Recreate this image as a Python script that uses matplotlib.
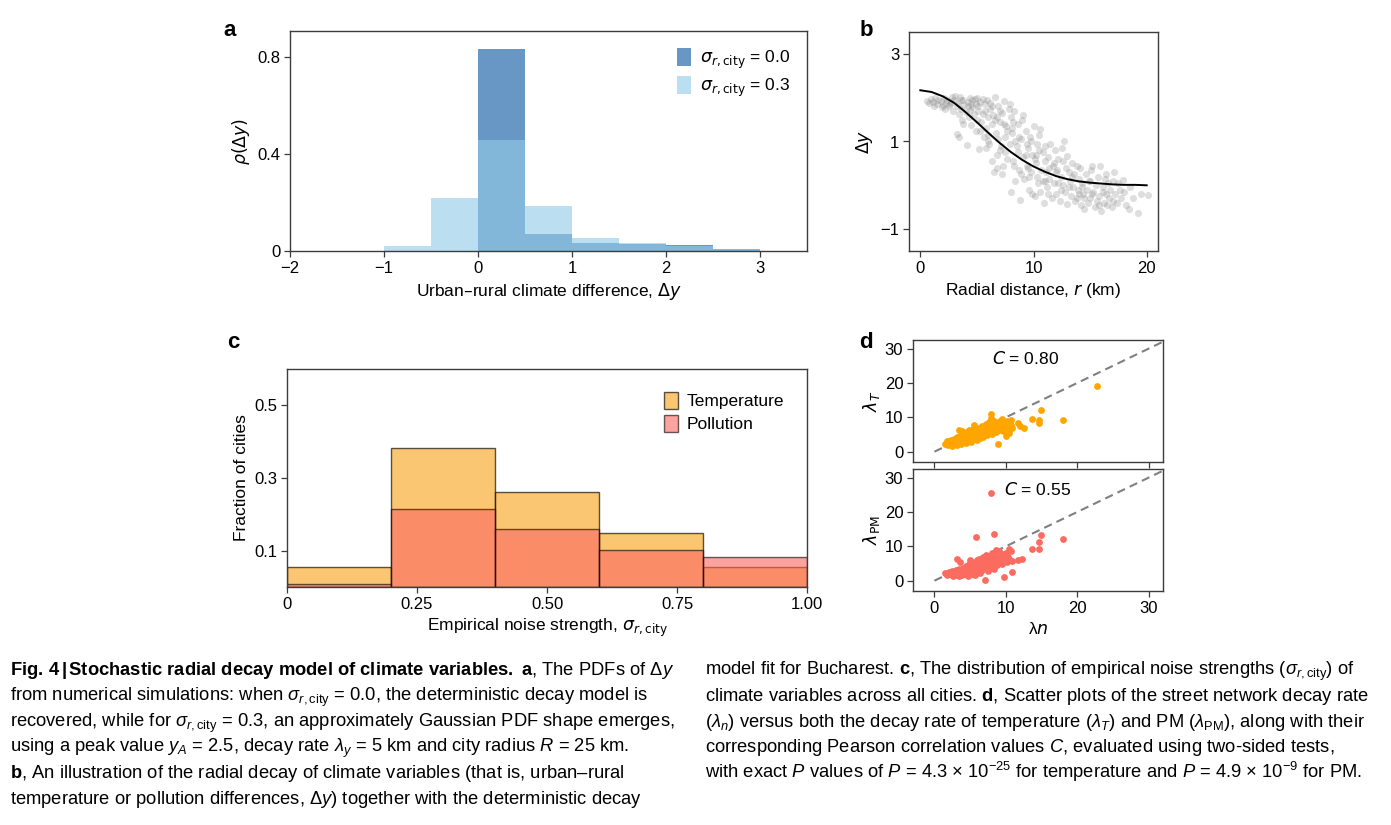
import numpy as np
import matplotlib
matplotlib.use("Agg")
import matplotlib.pyplot as plt
from matplotlib import font_manager as fm
from matplotlib.patches import Patch

# ---- panel a: simulated PDFs of delta y
bin_left_a = [-1.0, -0.5, 0.0, 0.5, 1.0, 1.5, 2.0, 2.5]
dens_sigma0 = [0.0, 0.0, 0.831, 0.071, 0.034, 0.029, 0.024, 0.008]
dens_sigma03 = [0.019, 0.219, 0.456, 0.184, 0.052, 0.031, 0.022, 0.008]

# ---- panel b: Bucharest radial decay
r_fit = [0, 1, 2, 3, 4, 5, 6, 7, 8, 9, 10, 11, 12, 13, 14, 15, 16, 17, 18, 19, 20]
dy_fit = [2.17, 2.13, 2.03, 1.88, 1.67, 1.44, 1.20, 0.97, 0.76, 0.58, 0.43,
          0.31, 0.21, 0.14, 0.09, 0.06, 0.04, 0.02, 0.01, 0.01, 0.0]
r_obs = [0.6, 0.9, 1.1, 1.3, 1.5, 1.6, 1.8, 2.0, 2.1, 2.3, 2.4, 2.5, 1.2, 0.8, 2.2, 1.9, 2.7, 2.8, 2.9, 2.6,
         3.0, 3.1, 3.2, 3.3, 3.4, 3.5, 3.6, 3.7, 3.8, 3.9, 4.0, 4.1, 4.2, 4.3, 4.4, 4.5, 4.6, 4.7, 4.8, 4.9,
         5.0, 3.4, 3.8, 4.4, 4.9, 3.6, 4.2, 4.6, 3.2, 5.0,
         5.1, 5.2, 5.3, 5.4, 5.5, 5.6, 5.7, 5.8, 5.9, 6.0, 6.1, 6.2, 6.3, 6.4, 6.5, 6.6, 6.7, 6.8, 6.9, 7.0,
         7.1, 7.2, 7.3, 7.4, 7.5, 7.6, 7.7, 7.8, 7.9, 8.0, 8.0, 5.5, 6.0, 6.3, 6.9, 7.2, 7.7, 5.8, 6.6, 7.5,
         5.3, 6.2, 7.0, 7.9, 6.8,
         8.1, 8.2, 8.3, 8.4, 8.5, 8.6, 8.7, 8.8, 8.9, 9.0, 9.1, 9.2, 9.3, 9.4, 9.5, 9.6, 9.7, 9.8, 9.9, 10.0,
         10.1, 10.2, 10.3, 10.4, 10.5, 10.6, 10.7, 10.8, 10.9, 11.0, 8.4, 8.9, 9.3, 9.8, 10.3, 10.8, 8.6, 9.5,
         10.1, 10.6, 8.2, 9.1, 9.9, 10.5, 11.0,
         11.1, 11.2, 11.3, 11.4, 11.5, 11.6, 11.7, 11.8, 11.9, 12.0, 12.1, 12.2, 12.3, 12.4, 12.5, 12.6, 12.7,
         12.8, 12.9, 13.0, 13.0, 13.2, 13.3, 13.4, 13.5, 13.6, 13.7, 13.8, 13.9, 14.0, 11.3, 12.0, 12.6, 13.1,
         13.8, 11.8, 12.4, 13.4, 14.0, 11.0,
         14.1, 14.2, 14.3, 14.4, 14.5, 14.6, 14.7, 14.8, 14.9, 15.0, 15.1, 15.2, 15.3, 15.4, 15.5, 15.6, 15.7,
         15.8, 15.9, 16.0, 16.1, 16.2, 16.3, 16.4, 16.5, 16.6, 16.7, 16.8, 16.9, 17.0, 14.5, 15.0, 15.8, 16.4,
         17.0,
         17.1, 17.2, 17.4, 17.5, 17.7, 17.9, 18.0, 18.2, 18.4, 18.5, 18.8, 19.2, 19.5, 20.1, 17.6,
         4.5, 5.1, 5.7, 6.3, 6.8, 7.4, 8.1, 8.7, 9.4, 10.2, 6.0, 7.0, 8.3, 9.6, 11.4, 12.2, 13.1, 14.3, 15.2, 16.1]
dy_obs = [1.93, 1.97, 1.90, 1.99, 1.86, 1.95, 1.92, 1.84, 1.99, 1.88, 1.95, 1.80, 1.82, 1.88, 1.74, 1.78,
          1.90, 2.02, 1.70, 1.85,
          1.95, 2.05, 1.17, 1.88, 1.62, 2.02, 1.75, 1.48, 1.95, 1.83, 1.68, 0.93, 1.90, 1.55, 2.00, 1.38,
          1.78, 1.62, 1.96, 1.85, 1.50, 1.10, 1.40, 1.72, 1.25, 1.95, 1.80, 1.95, 1.80, 2.00,
          1.70, 0.82, 1.90, 1.45, 1.62, 1.10, 1.85, 1.30, 1.95, 1.55, 0.95, 1.75, 1.40, 1.60, 0.30, 2.02,
          1.20, 0.70, 1.80, 1.45, 0.90, 1.65, 0.45, 1.92, 1.10, 1.35, 0.60, 1.75, 0.95, -0.15, 1.55, 1.97,
          1.15, 0.55, 1.05, 0.25, 1.25, 0.85, 1.50, 0.75, 1.25, 1.88, 1.70, 1.85, 0.40,
          1.20, 0.55, 1.70, 0.10, 0.90, 1.40, 0.35, -0.34, 1.05, 1.50, 0.65, 0.15, 1.25, 0.45, 0.85, -0.10,
          1.10, 0.30, 0.70, 1.35, -0.25, 0.50, 0.95, 0.05, 1.15, 1.29, 0.35, 0.75, -0.40, 0.55, 1.00, 0.25,
          0.70, 1.00, 0.20, 0.10, 0.75, 0.40, 0.60, -0.15, 1.45, 1.60, -0.20, 0.80, 0.90,
          0.30, -0.05, 0.65, 0.15, 0.95, -0.30, 0.45, 0.05, 0.80, -0.20, 0.35, 0.60, -0.35, 0.20, 0.85, 0.00,
          1.02, -0.15, 0.40, 0.67, -0.42, 0.10, -0.25, 0.50, -0.05, 0.25, -0.35, 0.45, -0.10, 0.15, -0.20,
          0.30, 0.55, -0.05, -0.30, 0.50, -0.10, 0.20, -0.20, 0.10,
          0.40, -0.45, 0.05, -0.20, -0.55, 0.25, -0.10, -0.40, 0.10, -0.30, 0.35, 0.43, -0.15, -0.50, 0.00,
          -0.35, 0.20, -0.25, 0.45, -0.58, -0.05, -0.40, 0.15, -0.20, -0.45, 0.05, -0.30, -0.10, -0.50, 0.10,
          -0.30, 0.10, -0.45, 0.25, -0.35,
          0.30, -0.20, -0.40, 0.05, -0.30, 0.13, -0.15, -0.45, -0.55, -0.05, -0.30, -0.63, -0.20, -0.23, -0.10,
          1.85, 1.80, 1.70, 1.82, 1.55, 1.40, 1.30, 1.10, 0.95, 0.70, 1.00, 0.80, 0.45, 0.20, 0.40, 0.05,
          0.30, -0.05, -0.20, -0.15]

# ---- panel c: empirical noise strengths
bin_left_c = [0.0, 0.2, 0.4, 0.6, 0.8]
frac_temp = [0.056, 0.383, 0.261, 0.150, 0.056]
frac_poll = [0.009, 0.216, 0.159, 0.103, 0.083]

# ---- panel d: decay rates
lamn_T = [1.5, 1.7, 1.9, 2.0, 2.2, 2.3, 2.4, 2.5, 2.6, 2.7, 2.8, 2.9, 3.0, 3.1, 3.2, 3.3, 3.4, 3.4, 3.5, 3.6,
          3.7, 3.8, 3.8, 3.9, 4.0, 4.1, 4.2, 4.3, 4.4, 4.5, 4.5, 4.6, 4.7, 4.8, 4.9, 5.0, 5.0, 5.1, 5.2, 5.3,
          5.4, 5.5, 5.5, 5.6, 5.7, 5.8, 5.9, 6.0, 6.1, 6.2, 6.3, 6.4, 6.5, 6.6, 6.7, 6.8, 6.9, 7.0, 7.1, 7.2,
          7.3, 7.4, 7.5, 7.6, 7.7, 7.8, 7.9, 7.9, 8.0, 8.1, 8.2, 8.3, 8.4, 8.5, 8.6, 8.7, 8.9, 9.0, 9.1, 9.2,
          9.4, 9.5, 9.6, 9.8, 10.0, 10.0, 10.1, 10.3, 10.4, 10.5, 10.7, 10.7, 10.9, 11.7, 12.0, 12.5, 13.6,
          14.6, 14.7, 14.9, 18.0, 22.7]
lam_T = [2.3, 3.2, 2.0, 2.8, 2.2, 3.5, 1.8, 2.6, 3.0, 2.1, 3.8, 2.4, 2.9, 1.9, 4.2, 3.1, 6.4, 2.6, 3.5, 4.5,
         2.3, 6.0, 3.2, 4.0, 2.8, 5.2, 3.6, 4.4, 2.5, 5.8, 3.9, 4.8, 3.1, 6.2, 4.2, 5.0, 3.4, 2.7, 5.6, 4.1,
         6.6, 7.8, 3.7, 5.0, 4.4, 6.0, 3.3, 5.4, 4.6, 7.0, 5.8, 3.9, 6.4, 5.0, 7.6, 4.3, 6.0, 5.3, 6.8, 8.2,
         4.8, 6.3, 7.2, 5.6, 8.6, 6.6, 11.1, 9.8, 7.3, 5.2, 8.0, 6.2, 9.0, 7.0, 5.8, 8.4, 2.1, 7.6, 6.4, 8.8,
         7.0, 9.4, 6.0, 8.0, 4.7, 7.4, 9.0, 6.6, 8.4, 5.5, 9.1, 7.9, 6.8, 8.4, 7.6, 7.0, 9.4, 9.1, 8.4, 12.0,
         9.1, 19.2]
lamn_PM = [1.5, 1.8, 2.0, 2.2, 2.4, 2.6, 2.8, 3.0, 3.1, 3.2, 3.3, 3.4, 3.5, 3.6, 3.7, 3.8, 3.9, 4.0, 4.1, 4.2,
           4.3, 4.4, 4.5, 4.6, 4.7, 4.8, 4.9, 5.0, 5.0, 5.1, 5.2, 5.3, 5.4, 5.5, 5.6, 5.7, 5.8, 5.8, 5.9, 6.0,
           6.1, 6.2, 6.3, 6.4, 6.5, 6.6, 6.7, 6.8, 6.9, 7.0, 7.1, 7.1, 7.2, 7.3, 7.4, 7.5, 7.6, 7.7, 7.8, 7.9,
           7.9, 8.0, 8.1, 8.2, 8.3, 8.3, 8.4, 8.5, 8.6, 8.7, 8.8, 8.9, 9.0, 9.2, 9.4, 9.5, 9.7, 9.8, 10.0, 10.1,
           10.3, 10.4, 10.6, 10.7, 10.8, 10.9, 11.7, 12.2, 13.6, 14.6, 14.7, 14.9, 18.0]
lam_PM = [2.1, 1.6, 2.5, 1.9, 2.8, 1.5, 2.2, 3.0, 1.8, 6.4, 2.6, 1.3, 3.4, 5.3, 2.1, 2.9, 1.6, 3.8, 2.4, 3.2,
          1.9, 4.3, 2.7, 3.6, 1.4, 4.8, 2.3, 3.1, 6.0, 4.0, 2.0, 5.4, 3.4, 2.6, 4.5, 1.7, 12.7, 3.8, 5.9, 2.9,
          4.9, 3.5, 6.2, 2.2, 4.2, 5.5, 3.2, 6.8, 4.6, 3.7, 0.2, 5.8, 7.4, 4.1, 6.1, 2.8, 5.0, 7.0, 3.9, 25.5,
          6.4, 4.8, 8.2, 5.6, 13.5, 3.4, 7.2, 6.0, 9.0, 4.5, 6.8, 5.2, 8.6, 6.3, 7.7, 5.0, 1.2, 6.6, 8.2, 5.4,
          7.0, 9.3, 6.0, 8.7, 2.6, 5.7, 6.0, 6.2, 9.3, 9.2, 11.2, 13.2, 12.1]
corr_T = 0.80
corr_PM = 0.55

caption_left = [
    r"$\mathbf{Fig.\,4\,|\,Stochastic\ radial\ decay\ model\ of\ climate\ variables.\ a}$, The PDFs of $\Delta y$",
    r"from numerical simulations: when $\sigma_{r,\mathrm{city}}$ = 0.0, the deterministic decay model is",
    r"recovered, while for $\sigma_{r,\mathrm{city}}$ = 0.3, an approximately Gaussian PDF shape emerges,",
    r"using a peak value $y_A$ = 2.5, decay rate $\lambda_y$ = 5 km and city radius $R$ = 25 km.",
    r"$\mathbf{b}$, An illustration of the radial decay of climate variables (that is, urban–rural",
    r"temperature or pollution differences, $\Delta y$) together with the deterministic decay",
]
caption_right = [
    r"model fit for Bucharest. $\mathbf{c}$, The distribution of empirical noise strengths ($\sigma_{r,\mathrm{city}}$) of",
    r"climate variables across all cities. $\mathbf{d}$, Scatter plots of the street network decay rate",
    r"($\lambda_n$) versus both the decay rate of temperature ($\lambda_T$) and PM ($\lambda_{\mathrm{PM}}$), along with their",
    r"corresponding Pearson correlation values $C$, evaluated using two-sided tests,",
    r"with exact $P$ values of $P$ = 4.3 × 10$^{-25}$ for temperature and $P$ = 4.9 × 10$^{-9}$ for PM.",
]


def has_font(name):
    try:
        fm.findfont(fm.FontProperties(family=name), fallback_to_default=False)
        return True
    except ValueError:
        return False


cap_family = "Liberation Sans Narrow" if has_font("Liberation Sans Narrow") else "Liberation Sans"

plt.rcParams["font.family"] = ["Liberation Sans", "DejaVu Sans"]
plt.rcParams["mathtext.fontset"] = "dejavusans"
plt.rcParams["mathtext.rm"] = cap_family
plt.rcParams["mathtext.it"] = cap_family + ":italic"
plt.rcParams["mathtext.bf"] = cap_family + ":bold"
plt.rcParams["axes.unicode_minus"] = True

W, H = 1391, 825
fig = plt.figure(figsize=(W / 100, H / 100), dpi=100)


def px_axes(left, top, right, bottom):
    return fig.add_axes([left / W, 1 - bottom / H, (right - left) / W, (bottom - top) / H])


def style(ax):
    for s in ax.spines.values():
        s.set_color("#3c3c3c")
        s.set_linewidth(1.0)
    ax.tick_params(labelsize=12, length=4, width=0.9, color="#3c3c3c", pad=3)


LABEL_FS = 12.5

# panel a
ax_a = px_axes(290, 31, 807, 251)
ax_a.bar(bin_left_a, dens_sigma0, width=0.5, align="edge", color="#6897c6", lw=0)
ax_a.bar(bin_left_a, dens_sigma03, width=0.5, align="edge", color="#92cce7", alpha=0.625, lw=0)
ax_a.set_xlim(-2, 3.5)
ax_a.set_ylim(0, 0.905)
ax_a.set_xticks([-2, -1, 0, 1, 2, 3])
ax_a.set_yticks([0, 0.4, 0.8])
ax_a.set_yticklabels(["0", "0.4", "0.8"])
ax_a.set_xlabel(r"Urban–rural climate difference, $\Delta y$", fontsize=LABEL_FS)
ax_a.set_ylabel(r"$\rho(\Delta y)$", fontsize=LABEL_FS)
ax_a.legend(handles=[Patch(color="#6897c6", lw=0),
                     Patch(color="#bbdff0", lw=0)],
            labels=[r"$\sigma_{r,\mathrm{city}}$ = 0.0", r"$\sigma_{r,\mathrm{city}}$ = 0.3"],
            loc="upper right", frameon=False, fontsize=12.5, handlelength=0.8, handleheight=1.2,
            handletextpad=0.5, borderaxespad=0.6, labelspacing=0.3)
style(ax_a)

# panel b
ax_b = px_axes(909, 32, 1158, 251)
ax_b.scatter(r_obs, dy_obs, s=26, color="#808080", alpha=0.26, lw=0)
ax_b.plot(r_fit, dy_fit, color="black", lw=1.4)
ax_b.set_xlim(-1, 21)
ax_b.set_ylim(-1.5, 3.5)
ax_b.set_xticks([0, 10, 20])
ax_b.set_yticks([-1, 1, 3])
ax_b.set_xlabel(r"Radial distance, $r$ (km)", fontsize=LABEL_FS)
ax_b.set_ylabel(r"$\Delta y$", fontsize=LABEL_FS)
style(ax_b)

# panel c
ax_c = px_axes(287, 369, 807, 587)
ax_c.bar(bin_left_c, frac_temp, width=0.2, align="edge", color="#f9a825", alpha=0.65,
         edgecolor="black", lw=1.0, label="Temperature")
ax_c.bar(bin_left_c, frac_poll, width=0.2, align="edge", color="#fa6661", alpha=0.6,
         edgecolor="black", lw=1.0, label="Pollution")
ax_c.set_xlim(0, 1)
ax_c.set_ylim(0, 0.6)
ax_c.set_xticks([0, 0.25, 0.5, 0.75, 1.0])
ax_c.set_xticklabels(["0", "0.25", "0.50", "0.75", "1.00"])
ax_c.set_yticks([0.1, 0.3, 0.5])
ax_c.set_xlabel(r"Empirical noise strength, $\sigma_{r,\mathrm{city}}$", fontsize=LABEL_FS)
ax_c.set_ylabel("Fraction of cities", fontsize=LABEL_FS)
ax_c.legend(loc="upper right", frameon=False, fontsize=12.5, handlelength=0.8, handleheight=1.2,
            handletextpad=0.5, borderaxespad=0.9, labelspacing=0.3)
style(ax_c)

# panel d
ax_d1 = px_axes(913, 340, 1163, 462)
ax_d2 = px_axes(913, 469, 1163, 591)
for ax, xs, ys, col, lab, cval, cx, cy in [
        (ax_d1, lamn_T, lam_T, "#ffa500", r"$\lambda_T$", corr_T, 12.7, 27),
        (ax_d2, lamn_PM, lam_PM, "#fb6b5f", r"$\lambda_{\mathrm{PM}}$", corr_PM, 14.5, 26.5)]:
    ax.plot([0, 32], [0, 32], ls=(0, (4, 2.5)), color="#808080", lw=1.5, zorder=1)
    ax.scatter(xs, ys, s=24, color=col, lw=0, zorder=2)
    ax.set_xlim(-3, 32)
    ax.set_ylim(-3, 32.5)
    ax.set_xticks([0, 10, 20, 30])
    ax.set_yticks([0, 10, 20, 30])
    ax.set_ylabel(lab, fontsize=LABEL_FS, labelpad=2)
    ax.text(cx, cy, r"$C$ = %.2f" % cval, ha="center", va="center", fontsize=12.5)
    style(ax)
ax_d1.tick_params(labelbottom=False)
ax_d2.set_xlabel(r"λ$n$", fontsize=LABEL_FS)

# panel letters
for lab, x, y in [("a", 230, 30), ("b", 866, 30), ("c", 233, 342), ("d", 866, 342)]:
    fig.text(x / W, 1 - y / H, lab, fontsize=16, fontweight="bold", ha="center", va="center")

# caption, sized to the column width of the reference
fig.canvas.draw()
rend = fig.canvas.get_renderer()
probe = fig.text(0, 0, caption_left[1], fontsize=10, family=cap_family, math_fontfamily="custom")
w10 = probe.get_window_extent(renderer=rend).width
probe.remove()
cap_size = 10 * 640 / w10

for i, line in enumerate(caption_left):
    fig.text(10 / W, 1 - (675 + i * 25.8) / H, line, fontsize=cap_size, family=cap_family,
             math_fontfamily="custom", va="baseline", ha="left")
for i, line in enumerate(caption_right):
    fig.text(705 / W, 1 - (675 + i * 25.8) / H, line, fontsize=cap_size, family=cap_family,
             math_fontfamily="custom", va="baseline", ha="left")

fig.savefig("out.png", dpi=100)
